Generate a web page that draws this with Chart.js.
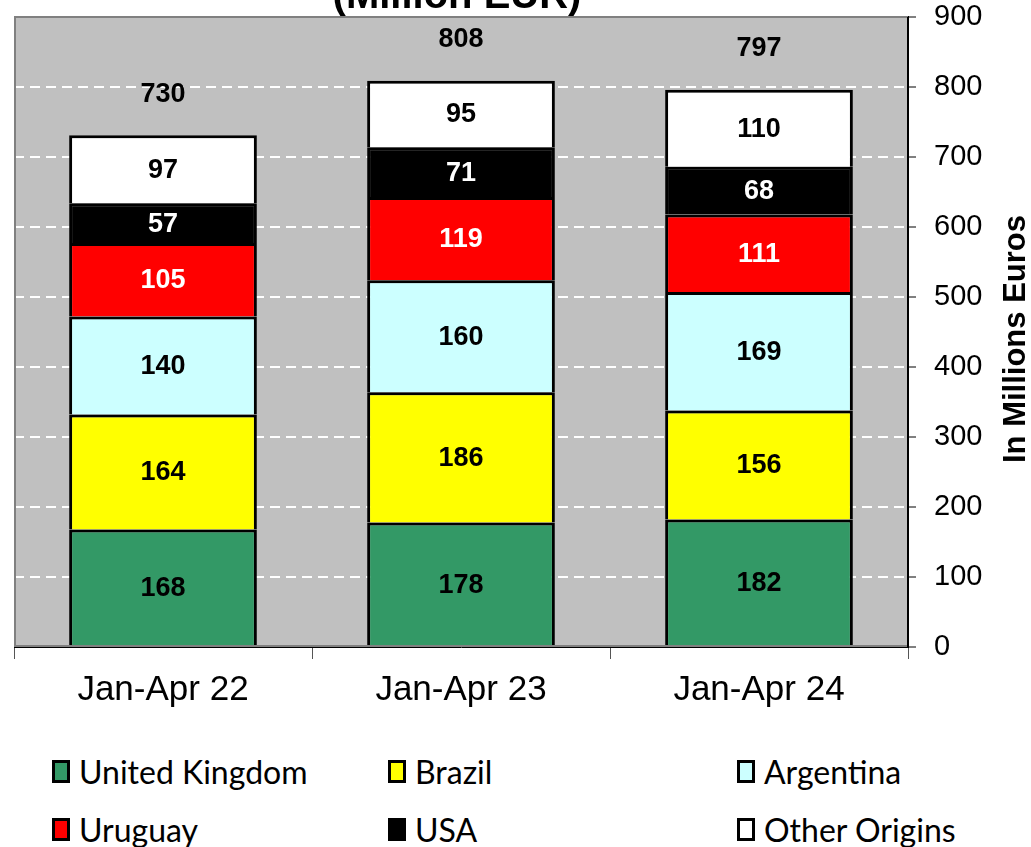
<!DOCTYPE html>
<html>
<head>
<meta charset="utf-8">
<script src="https://cdn.jsdelivr.net/npm/chart.js@4"></script>
<style>
    body { margin: 0; background: #fff; }
    #wrap { position: relative; width: 1031px; height: 847px; overflow: hidden; }
    #chart { position: absolute; left: 0; top: 0; }
    .leg { position: absolute; display: flex; align-items: center; font-family: Lato, "Liberation Sans", sans-serif; font-size: 32px; color: #000; white-space: nowrap; }
    .leg .box { width: 12px; height: 17px; border: 3px solid #000; margin-right: 9px; }
</style>
</head>
<body>
<div id="wrap">
    <canvas id="chart" width="1031" height="740"></canvas>
    <div id="legend"></div>
</div>
<script>
// Chart data
const periods = ["Jan-Apr 22", "Jan-Apr 23", "Jan-Apr 24"];
const origins = ["United Kingdom", "Brazil", "Argentina", "Uruguay", "USA", "Other Origins"];
const ukValues = [168, 178, 182];
const brazilValues = [164, 186, 156];
const argentinaValues = [140, 160, 169];
const uruguayValues = [105, 119, 111];
const usaValues = [57, 71, 68];
const otherValues = [97, 95, 110];
const totals = [730, 808, 797];
const yTicks = [0, 100, 200, 300, 400, 500, 600, 700, 800, 900];

const fillColors = ["#339966", "#FFFF00", "#CCFFFF", "#FF0000", "#000000", "#FFFFFF"];
const labelColors = ["#000", "#000", "#000", "#fff", "#fff", "#000"];
const seriesValues = [ukValues, brazilValues, argentinaValues, uruguayValues, usaValues, otherValues];

// ===============================
// Plot background + grey frame
// ===============================
const plotBackground = {
    id: "plotBackground",
    beforeDraw(chart) {
        const { ctx, chartArea: a } = chart;
        ctx.save();
        ctx.fillStyle = "#C0C0C0";
        ctx.fillRect(a.left, a.top, a.right - a.left, a.bottom - a.top);
        ctx.restore();
    },
    afterDraw(chart) {
        const { ctx, chartArea: a } = chart;
        ctx.save();
        ctx.setLineDash([]);
        ctx.strokeStyle = "#808080";
        ctx.lineWidth = 2;
        ctx.beginPath();
        ctx.moveTo(a.right, a.top);
        ctx.lineTo(a.left + 1, a.top);
        ctx.lineTo(a.left + 1, a.bottom - 1);
        ctx.lineTo(a.right, a.bottom - 1);
        ctx.stroke();
        // right axis line on top
        ctx.strokeStyle = "#000";
        ctx.beginPath();
        ctx.moveTo(a.right, a.top);
        ctx.lineTo(a.right, a.bottom + 1);
        ctx.stroke();

        // cropped title at the very top
        ctx.fillStyle = "#000";
        ctx.font = "bold 40px 'Liberation Sans', Arial, sans-serif";
        ctx.textAlign = "center";
        ctx.textBaseline = "alphabetic";
        ctx.fillText("(Million EUR)", 457, 8);

        // right axis title, reading bottom to top
        ctx.save();
        ctx.translate(1016, 339);
        ctx.rotate(-Math.PI / 2);
        ctx.font = "bold 31px 'Liberation Sans', Arial, sans-serif";
        ctx.textBaseline = "middle";
        ctx.fillText("In Millions Euros", 0, 0);
        ctx.restore();
        ctx.restore();
    }
};

// ===============================
// Value labels + totals
// ===============================
const valueLabels = {
    id: "valueLabels",
    afterDatasetsDraw(chart) {
        const { ctx } = chart;
        ctx.save();
        ctx.font = "bold 27px 'Liberation Sans', Arial, sans-serif";
        ctx.textAlign = "center";
        ctx.textBaseline = "middle";
        chart.data.datasets.forEach((ds, i) => {
            const meta = chart.getDatasetMeta(i);
            meta.data.forEach((bar, j) => {
                ctx.fillStyle = labelColors[i];
                ctx.fillText(String(ds.data[j]), bar.x, (bar.y + bar.base) / 2 + 1);
            });
        });
        const top = chart.getDatasetMeta(chart.data.datasets.length - 1);
        ctx.fillStyle = "#000";
        top.data.forEach((bar, j) => {
            ctx.fillText(String(totals[j]), bar.x, bar.y - 41);
        });
        ctx.restore();
    }
};

// ===============================
// Chart
// ===============================
function loadChart() {
    new Chart(document.getElementById("chart"), {
        type: "bar",
        data: {
            labels: periods,
            datasets: origins.map((name, i) => ({
                label: name,
                data: seriesValues[i],
                backgroundColor: fillColors[i],
                borderColor: "#000",
                borderWidth: 3,
                categoryPercentage: 1,
                barPercentage: 0.63
            }))
        },
        options: {
            responsive: false,
            animation: false,
            devicePixelRatio: 1,
            layout: { padding: { left: 14, top: 0, right: 0, bottom: 0 } },
            plugins: {
                legend: { display: false },
                tooltip: { enabled: false },
                title: { display: false }
            },
            scales: {
                x: {
                    stacked: true,
                    afterFit: s => { s.height = 93; },
                    grid: {
                        offset: true,
                        drawOnChartArea: false,
                        tickColor: "#555",
                        tickLength: 12,
                        lineWidth: 1
                    },
                    border: { color: "#000", width: 1 },
                    ticks: {
                        color: "#000",
                        padding: 10,
                        font: { family: "'Liberation Sans', Arial, sans-serif", size: 35 }
                    }
                },
                y: {
                    stacked: true,
                    position: "right",
                    min: 0,
                    max: 900,
                    afterFit: s => { s.width = 123; s.paddingTop = 17; },
                    afterBuildTicks: s => { s.ticks = yTicks.map(v => ({ value: v })); },
                    grid: {
                        color: ctx => (ctx.tick && ctx.tick.value > 0 && ctx.tick.value < 900) ? "#FFFFFF" : "rgba(0,0,0,0)",
                        lineWidth: 2,
                        tickColor: "#000",
                        tickBorderDash: [],
                        tickLength: 8,
                        tickWidth: 1
                    },
                    border: { color: "#000", width: 2, dash: [10, 6] },
                    ticks: {
                        color: "#000",
                        padding: 18,
                        font: { family: "'Liberation Sans', Arial, sans-serif", size: 29 }
                    }
                }
            }
        },
        plugins: [plotBackground, valueLabels]
    });
}

// ===============================
// Legend (3 columns x 2 rows)
// ===============================
function loadLegend() {
    const colX = [52, 388, 737];
    const rowY = [771, 829];
    const holder = document.getElementById("legend");
    origins.forEach((name, i) => {
        const item = document.createElement("div");
        item.className = "leg";
        item.style.left = colX[i % 3] + "px";
        item.style.top = (rowY[Math.floor(i / 3)] - 20) + "px";
        item.style.height = "40px";
        item.innerHTML = `<span class="box" style="background:${fillColors[i]}"></span><span>${name}</span>`;
        holder.appendChild(item);
    });
}

loadChart();
loadLegend();
</script>
</body>
</html>
